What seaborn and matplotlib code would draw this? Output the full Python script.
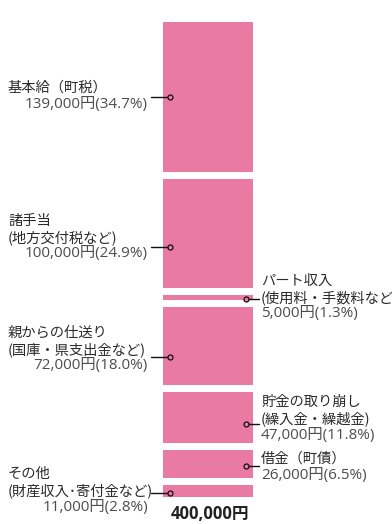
import matplotlib
matplotlib.use("Agg")
import matplotlib.pyplot as plt
import matplotlib.transforms as mtrans
import numpy as np
import pandas as pd
import seaborn as sns

# data
items = ["基本給（町税）", "諸手当", "パート収入", "親からの仕送り",
         "貯金の取り崩し", "借金（町債）", "その他"]
notes = ["", "(地方交付税など)", "(使用料・手数料など)", "(国庫・県支出金など)",
         "(繰入金・繰越金)", "", "(財産収入･寄付金など)"]
amounts = [139000, 100000, 5000, 72000, 47000, 26000, 11000]
shares = [34.7, 24.9, 1.3, 18.0, 11.8, 6.5, 2.8]
total = 400000

sns.set_theme(style="white")
plt.rcParams["font.family"] = ["Noto Sans CJK JP", "DejaVu Sans"]
LATIN = ["Open Sans", "Noto Sans CJK JP"]

W, H = 392, 524
PINK = "#E97AA1"
TXT = "#2b2b2b"
VAL = "#4d4d4d"

fig = plt.figure(figsize=(W / 100, H / 100), dpi=100)
ax = fig.add_axes([0, 0, 1, 1])

# stack the segments top-down with a small white gap between them
gap = 6470
df = pd.DataFrame({"item": items, "amount": amounts})
df["start"] = df["amount"].cumsum().shift(fill_value=0) + gap * np.arange(len(df))

for _, row in df.iterrows():
    sns.barplot(x=["total"], y=[row["amount"]], bottom=row["start"],
                color=PINK, saturation=1, width=0.8, linewidth=0, ax=ax)

# map axes so the bar sits at px 163..253 and the top at px 22
unit = 90 / 0.8
ax.set_xlim(-208 / unit, (W - 208) / unit)
scale = 1.0825 / 1000
ax.set_ylim((H - 22) / scale, -22 / scale)
ax.axis("off")

# pixel coordinates (origin top-left) for the callouts
px = mtrans.Affine2D().scale(1, -1).translate(0, H)

# label layout: side, first-line y, dot y
layout = [
    ("left", 88, 97),
    ("left", 221, 247),
    ("right", 281, 299),
    ("left", 333, 357),
    ("right", 402, 424),
    ("right", 459, 466),
    ("left", 474, 493),
]

fs = 10.3
fv = 11
lh = 16.5
for name, note, amt, pct, (side, y0, dy) in zip(items, notes, amounts, shares, layout):
    lines = [name] + ([note] if note else [])
    value = f"{amt:,}円({pct:.1f}%)"
    if side == "left":
        for i, t in enumerate(lines):
            ax.text(8, y0 + i * lh, t, transform=px, ha="left", va="center",
                    fontsize=fs, color=TXT)
        ax.text(148, y0 + len(lines) * lh, value, transform=px, ha="right",
                va="center", fontsize=fv, color=VAL, family=LATIN)
        ax.plot([151, 170], [dy, dy], color="#111111", lw=1, transform=px)
        ax.plot([170], [dy], "o", ms=3.6, mfc=PINK, mec="#111111", mew=0.9,
                transform=px)
    else:
        for i, t in enumerate(lines):
            ax.text(261, y0 + i * lh, t, transform=px, ha="left", va="center",
                    fontsize=fs, color=TXT)
        ax.text(261, y0 + len(lines) * lh, value, transform=px, ha="left",
                va="center", fontsize=fv, color=VAL, family=LATIN)
        ax.plot([246, 259], [dy, dy], color="#111111", lw=1, transform=px)
        ax.plot([246], [dy], "o", ms=3.6, mfc=PINK, mec="#111111", mew=0.9,
                transform=px)

ax.text(210, 514, f"{total:,}円", transform=px, ha="center", va="center",
        fontsize=12, fontweight="bold", color="#222222", family=LATIN)

fig.savefig("out.png", dpi=100)
